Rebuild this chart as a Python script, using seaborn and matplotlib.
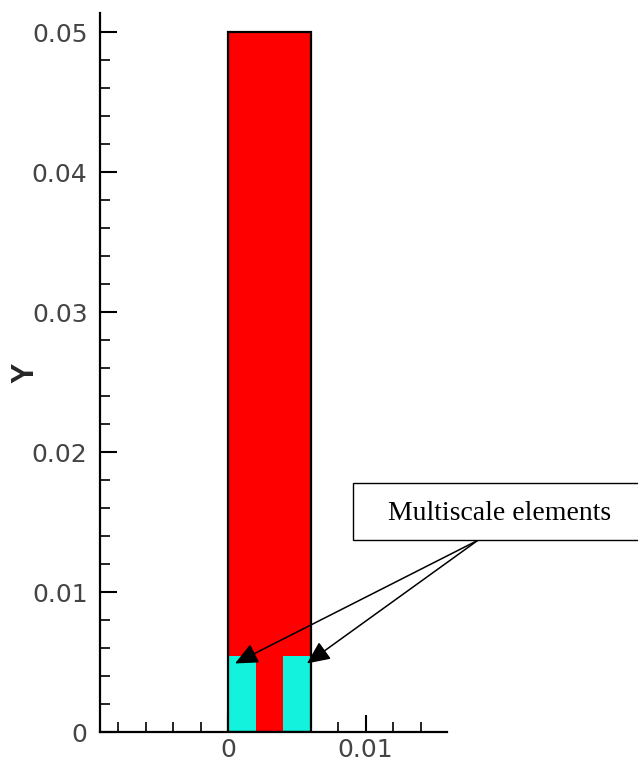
import matplotlib
matplotlib.use("Agg")
import matplotlib.pyplot as plt
import matplotlib.patches as mpatches
from matplotlib.ticker import MultipleLocator, FuncFormatter
import seaborn as sns

# ---- data ----
domain_left = [0.0]
domain_width = [0.006]
domain_height = [0.05]

ms_left = [0.0, 0.004]
ms_width = [0.002, 0.002]
ms_height = [0.0054, 0.0054]

arrow_tips_x = [0.00049, 0.00573]
arrow_tips_y = [0.0049, 0.0049]
arrow_start = (0.01817, 0.0137)
annotation_text = "Multiscale elements"

sns.set_theme(style="ticks")
plt.rcParams['font.family'] = ['DejaVu Sans']

fig = plt.figure(figsize=(6.38, 7.64), dpi=100)
ax = fig.add_axes([100/638, 32/764, (447-100)/638, (751-32)/764])

# red domain fill
ax.bar(domain_left, domain_height, width=domain_width, align='edge',
       color='#FF0000', edgecolor='none', linewidth=0, zorder=1)
# cyan multiscale elements
ax.bar(ms_left, ms_height, width=ms_width, align='edge',
       color='#12F2DC', edgecolor='none', linewidth=0, zorder=1.5)
# domain outline on top
ax.bar(domain_left, domain_height, width=domain_width, align='edge',
       fill=False, edgecolor='black', linewidth=1.6, zorder=2)

ax.set_xlim(-0.00934, 0.01592)
ax.set_ylim(0, 0.05138)

for s in ['top', 'right']:
    ax.spines[s].set_visible(False)
for s in ['left', 'bottom']:
    ax.spines[s].set_linewidth(1.6)
    ax.spines[s].set_color('black')

ax.xaxis.set_major_locator(MultipleLocator(0.01))
ax.xaxis.set_minor_locator(MultipleLocator(0.002))
ax.yaxis.set_major_locator(MultipleLocator(0.01))
ax.yaxis.set_minor_locator(MultipleLocator(0.002))
fmt = FuncFormatter(lambda v, p: "0" if abs(v) < 1e-12 else f"{v:g}")
ax.xaxis.set_major_formatter(fmt)
ax.yaxis.set_major_formatter(fmt)

ax.tick_params(which='major', direction='in', length=12, width=1.5,
               color='black', labelsize=18, labelcolor='#444444')
ax.tick_params(which='minor', direction='in', length=7, width=1.2, color='black')
ax.tick_params(axis='x', which='both', bottom=True, top=False, pad=4)
ax.tick_params(axis='y', which='both', left=True, right=False, pad=9)

ax.set_ylabel("Y", fontsize=22, fontweight='bold', family=['Liberation Sans', 'DejaVu Sans'])
ax.yaxis.set_label_coords(-75/347, 0.5)
ax.yaxis.label.set_verticalalignment('center')
ax.set_xlabel("")

# annotation box in figure pixels
box = mpatches.Rectangle((353/638, 224/764), 1.0, 57/764, transform=fig.transFigure,
                         facecolor='white', edgecolor='black', linewidth=1.0,
                         clip_on=False, zorder=5)
fig.patches.append(box)
fig.text(500/638, 244/764, annotation_text, ha='center', va='baseline',
         fontsize=20, family=['Liberation Serif', 'DejaVu Serif'], color='black', zorder=6)

for tx, ty in zip(arrow_tips_x, arrow_tips_y):
    ax.annotate("", xy=(tx, ty), xytext=arrow_start, xycoords='data', textcoords='data',
                annotation_clip=False,
                arrowprops=dict(arrowstyle="-|>,head_length=0.7,head_width=0.32",
                                color='black', lw=1.1, shrinkA=0, shrinkB=0,
                                mutation_scale=20))

fig.savefig("out.png", dpi=100)
